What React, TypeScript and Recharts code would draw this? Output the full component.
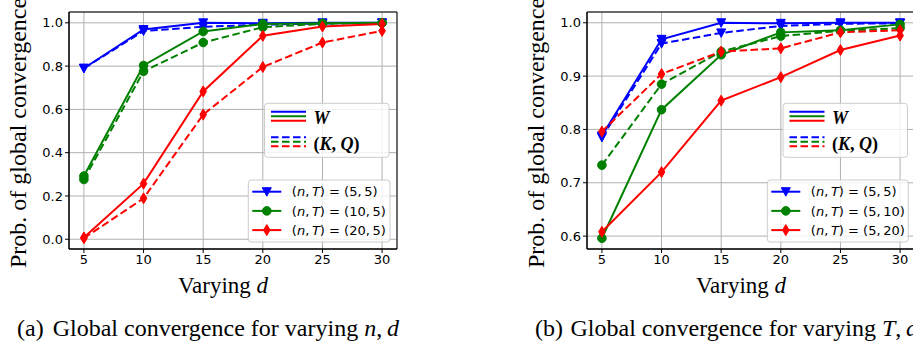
import React from 'react'
import { LineChart, Line, XAxis, YAxis, CartesianGrid, ReferenceArea } from 'recharts'

// x: varying d
const D_VALUES = [5, 10, 15, 20, 25, 30]
const Y_TICKS_A = [0, 0.2, 0.4, 0.6, 0.8, 1.0]
const Y_TICKS_B = [0.6, 0.7, 0.8, 0.9, 1.0]

// (a) varying n, T = 5
const A_W_5_5 = [0.79, 0.969, 1.0, 0.998, 1.0, 1.0]
const A_KQ_5_5 = [0.79, 0.962, 0.982, 0.991, 0.997, 0.999]
const A_W_10_5 = [0.292, 0.803, 0.96, 0.995, 0.998, 1.0]
const A_KQ_10_5 = [0.276, 0.776, 0.909, 0.98, 0.995, 1.0]
const A_W_20_5 = [0.008, 0.257, 0.683, 0.94, 0.983, 0.995]
const A_KQ_20_5 = [0.005, 0.189, 0.576, 0.796, 0.909, 0.963]

// (b) varying T, n = 5
const B_W_5_5 = [0.788, 0.969, 1.0, 0.999, 1.0, 1.0]
const B_KQ_5_5 = [0.785, 0.961, 0.981, 0.994, 0.998, 0.999]
const B_W_5_10 = [0.596, 0.837, 0.94, 0.982, 0.986, 0.997]
const B_KQ_5_10 = [0.733, 0.885, 0.946, 0.975, 0.985, 0.99]
const B_W_5_20 = [0.608, 0.72, 0.854, 0.898, 0.949, 0.976]
const B_KQ_5_20 = [0.796, 0.904, 0.946, 0.952, 0.982, 0.986]

const LEGEND_A = ['(5, 5)', '(10, 5)', '(20, 5)']
const LEGEND_B = ['(5, 5)', '(5, 10)', '(5, 20)']

const BLUE = '#0000ff'
const GREEN = '#008000'
const RED = '#ff0000'
const SERIF = '"Liberation Serif", "Times New Roman", serif'
const SANS = '"DejaVu Sans", sans-serif'

type Shape = 'tri' | 'circle' | 'diamond'

const SERIES: { key: string; color: string; dashed: boolean; shape: Shape }[] = [
  { key: 'w1', color: BLUE, dashed: false, shape: 'tri' },
  { key: 'kq1', color: BLUE, dashed: true, shape: 'tri' },
  { key: 'w2', color: GREEN, dashed: false, shape: 'circle' },
  { key: 'kq2', color: GREEN, dashed: true, shape: 'circle' },
  { key: 'w3', color: RED, dashed: false, shape: 'diamond' },
  { key: 'kq3', color: RED, dashed: true, shape: 'diamond' },
]

const rowsA = D_VALUES.map((d, i) => ({
  d,
  w1: A_W_5_5[i], kq1: A_KQ_5_5[i],
  w2: A_W_10_5[i], kq2: A_KQ_10_5[i],
  w3: A_W_20_5[i], kq3: A_KQ_20_5[i],
}))
const rowsB = D_VALUES.map((d, i) => ({
  d,
  w1: B_W_5_5[i], kq1: B_KQ_5_5[i],
  w2: B_W_5_10[i], kq2: B_KQ_5_10[i],
  w3: B_W_5_20[i], kq3: B_KQ_5_20[i],
}))

function Marker({ cx, cy, shape, color }: { cx?: number; cy?: number; shape: Shape; color: string }) {
  if (cx == null || cy == null) return null
  if (shape === 'tri') {
    return <path d={`M${cx - 4.5},${cy - 4} L${cx + 4.5},${cy - 4} L${cx},${cy + 4.5} Z`} fill={color} stroke={color} strokeWidth={1} />
  }
  if (shape === 'circle') {
    return <circle cx={cx} cy={cy} r={4.3} fill={color} stroke={color} strokeWidth={1} />
  }
  return <path d={`M${cx},${cy - 5.5} L${cx + 3.3},${cy} L${cx},${cy + 5.5} L${cx - 3.3},${cy} Z`} fill={color} stroke={color} strokeWidth={1} />
}

const X_DOMAIN: [number, number] = [3.75, 31.25]
const TICK = { fontSize: 13, fill: '#000', fontFamily: SANS }

function Panel({ rows, yDomain, yTicks, left }: { rows: any[]; yDomain: [number, number]; yTicks: number[]; left: number }) {
  return (
    <div style={{ position: 'absolute', left, top: 0 }}>
      <LineChart width={400} height={279} data={rows} margin={{ top: 12, right: 3, left: 0, bottom: 0 }}>
        <CartesianGrid stroke="#b0b0b0" strokeWidth={1} />
        <XAxis
          dataKey="d"
          type="number"
          domain={X_DOMAIN}
          ticks={D_VALUES}
          allowDataOverflow
          height={30}
          tick={TICK}
          tickSize={4}
          tickMargin={2}
          tickLine={{ stroke: '#000' }}
          axisLine={{ stroke: '#000' }}
        />
        <YAxis
          type="number"
          domain={yDomain}
          ticks={yTicks}
          allowDataOverflow
          width={69}
          tick={TICK}
          tickSize={4}
          tickMargin={2}
          tickFormatter={(v: number) => v.toFixed(1)}
          tickLine={{ stroke: '#000' }}
          axisLine={{ stroke: '#000' }}
        />
        {SERIES.map((s) => (
          <Line
            key={s.key}
            dataKey={s.key}
            type="linear"
            stroke={s.color}
            strokeWidth={2}
            strokeDasharray={s.dashed ? '7.5 3.5' : undefined}
            isAnimationActive={false}
            activeDot={false}
            dot={(p: any) => <Marker key={`${s.key}-${p.index}`} cx={p.cx} cy={p.cy} shape={s.shape} color={s.color} />}
          />
        ))}
        <ReferenceArea x1={X_DOMAIN[0]} x2={X_DOMAIN[1]} y1={yDomain[0]} y2={yDomain[1]} fill="none" stroke="#000" strokeWidth={1} ifOverflow="visible" />
      </LineChart>
    </div>
  )
}

function StyleLegend({ x, y }: { x: number; y: number }) {
  // x,y = top-left of the legend box
  const lx1 = x + 6.5
  const lx2 = x + 41.5
  return (
    <g>
      <rect x={x} y={y} width={124.5} height={54} rx={3} fill="rgba(255,255,255,0.8)" stroke="#cccccc" strokeWidth={1} />
      {[BLUE, GREEN, RED].map((c, i) => (
        <line key={'s' + i} x1={lx1} x2={lx2} y1={y + 8.5 + i * 4.5} y2={y + 8.5 + i * 4.5} stroke={c} strokeWidth={2} />
      ))}
      {[BLUE, GREEN, RED].map((c, i) => (
        <line key={'d' + i} x1={lx1} x2={lx2} y1={y + 34 + i * 4.5} y2={y + 34 + i * 4.5} stroke={c} strokeWidth={2} strokeDasharray="7.5 3.5" />
      ))}
      <text x={x + 49} y={y + 20.5} fontFamily={SERIF} fontSize={18} fontWeight="bold" fontStyle="italic">W</text>
      <text x={x + 49} y={y + 47} fontFamily={SERIF} fontSize={18} fontWeight="bold">
        (<tspan fontStyle="italic">K</tspan>, <tspan fontStyle="italic">Q</tspan>)
      </text>
    </g>
  )
}

function ConfigLegend({ x, y, labels, width }: { x: number; y: number; labels: string[]; width: number }) {
  const shapes: Shape[] = ['tri', 'circle', 'diamond']
  const colors = [BLUE, GREEN, RED]
  return (
    <g>
      <rect x={x} y={y} width={width} height={62} rx={3} fill="rgba(255,255,255,0.8)" stroke="#cccccc" strokeWidth={1} />
      {labels.map((lab, i) => {
        const cy = y + 11.7 + i * 19.2
        return (
          <g key={i}>
            <line x1={x + 4} x2={x + 33} y1={cy} y2={cy} stroke={colors[i]} strokeWidth={2} />
            <Marker cx={x + 18.5} cy={cy} shape={shapes[i]} color={colors[i]} />
            <text x={x + 43.5} y={cy + 4.6} fontFamily={SANS} fontSize={13}>
              (<tspan fontStyle="italic">n</tspan>,{'\u2009'}<tspan fontStyle="italic">T</tspan>) = {lab.replace(', ', ',\u2009')}
            </text>
          </g>
        )
      })}
    </g>
  )
}

export default function App() {
  return (
    <div style={{ position: 'fixed', left: 0, top: 0, width: 913, height: 345, overflow: 'hidden', background: '#fff' }}>
      <Panel rows={rowsA} yDomain={[-0.045, 1.05]} yTicks={Y_TICKS_A} left={0} />
      <Panel rows={rowsB} yDomain={[0.5758, 1.0202]} yTicks={Y_TICKS_B} left={518} />
      <svg width={913} height={345} style={{ position: 'absolute', left: 0, top: 0, pointerEvents: 'none' }}>
        <text transform="translate(26,268) rotate(-90)" fontFamily={SERIF} fontSize={24}>Prob. of global convergence</text>
        <text transform="translate(544,268) rotate(-90)" fontFamily={SERIF} fontSize={24}>Prob. of global convergence</text>
        <text x={178} y={292.5} fontFamily={SERIF} fontSize={23}>Varying <tspan fontStyle="italic">d</tspan></text>
        <text x={696} y={292.5} fontFamily={SERIF} fontSize={23}>Varying <tspan fontStyle="italic">d</tspan></text>
        <text x={17} y={336} fontFamily={SERIF} fontSize={24}>(a)</text>
        <text x={52.7} y={336} fontFamily={SERIF} fontSize={24}>
          Global convergence for varying <tspan fontStyle="italic">n</tspan>,{'\u2009'}<tspan fontStyle="italic">d</tspan>
        </text>
        <text x={535} y={336} fontFamily={SERIF} fontSize={24}>(b)</text>
        <text x={570.5} y={336} fontFamily={SERIF} fontSize={24}>
          Global convergence for varying <tspan fontStyle="italic">T</tspan>,{'\u2009'}<tspan fontStyle="italic">d</tspan>
        </text>
        <StyleLegend x={264.5} y={103.3} />
        <StyleLegend x={783} y={103.3} />
        <ConfigLegend x={248.3} y={180} labels={LEGEND_A} width={141.7} />
        <ConfigLegend x={767.3} y={180} labels={LEGEND_B} width={141} />
      </svg>
    </div>
  )
}
